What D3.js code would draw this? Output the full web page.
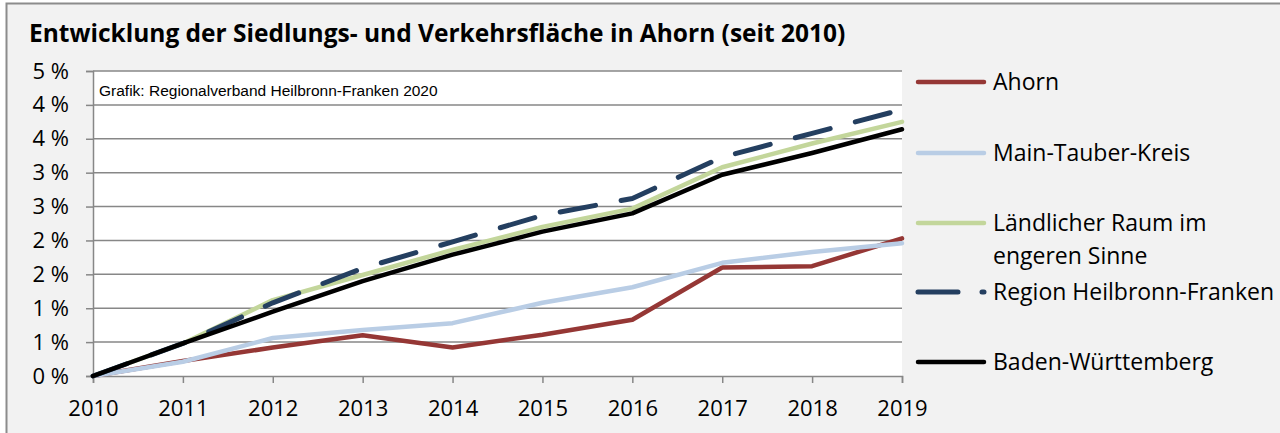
<!DOCTYPE html>
<html>
<head>
<meta charset="utf-8" />
<script src="https://cdn.jsdelivr.net/npm/d3@7"></script>
<style>
  html, body { margin: 0; padding: 0; background: #fff; }
  svg { display: block; }
</style>
</head>
<body>
<div id="my_dataviz"></div>
<script>
// Data (change in % since 2010)
const years = [2010, 2011, 2012, 2013, 2014, 2015, 2016, 2017, 2018, 2019];
const ahorn = [0, 0.22, 0.42, 0.60, 0.42, 0.61, 0.83, 1.60, 1.62, 2.03];
const mainTauber = [0, 0.21, 0.56, 0.68, 0.78, 1.08, 1.31, 1.67, 1.83, 1.96];
const laendlich = [0, 0.48, 1.12, 1.49, 1.86, 2.20, 2.47, 3.08, 3.43, 3.75];
const heilbronnFranken = [0, 0.48, 1.08, 1.59, 1.98, 2.37, 2.62, 3.23, 3.58, 3.93];
const badenWuerttemberg = [0, 0.48, 0.95, 1.40, 1.79, 2.13, 2.40, 2.97, 3.29, 3.64];
const yTicks = [0, 0.5, 1, 1.5, 2, 2.5, 3, 3.5, 4, 4.5];

const title = "Entwicklung der Siedlungs- und Verkehrsfläche in Ahorn (seit 2010)";
const note = "Grafik: Regionalverband Heilbronn-Franken 2020";

const series = [
    { name: ["Ahorn"], values: ahorn, color: "#953735", dash: null, ly: 82 },
    { name: ["Main-Tauber-Kreis"], values: mainTauber, color: "#b9cde5", dash: null, ly: 153 },
    { name: ["Ländlicher Raum im", "engeren Sinne"], values: laendlich, color: "#c3d69b", dash: null, ly: 223 },
    { name: ["Region Heilbronn-Franken"], values: heilbronnFranken, color: "#243f60", dash: "36,26", ly: 292 },
    { name: ["Baden-Württemberg"], values: badenWuerttemberg, color: "#000000", dash: null, ly: 362 }
];

const width = 1280;
const height = 433;
const plot = { left: 93, right: 902, top: 71, bottom: 376 };
const font = "'Open Sans', Calibri, sans-serif";

const svg = d3.select("#my_dataviz")
    .append("svg")
    .attr("width", width)
    .attr("height", height);

// chart frame
svg.append("rect")
    .attr("x", 6.5).attr("y", 3.5)
    .attr("width", width + 10).attr("height", height + 10)
    .attr("fill", "#f2f2f2")
    .attr("stroke", "#8c8c8c")
    .attr("stroke-width", 2);

svg.append("text")
    .attr("x", 29).attr("y", 42)
    .style("font-family", font)
    .style("font-weight", "bold")
    .style("font-size", "24.5px")
    .attr("fill", "#000")
    .text(title);

const x = d3.scaleLinear().domain([2010, 2019]).range([plot.left, plot.right]);
const y = d3.scaleLinear().domain([0, 4.5]).range([plot.bottom, plot.top]);

svg.append("rect")
    .attr("x", plot.left).attr("y", plot.top)
    .attr("width", plot.right - plot.left).attr("height", plot.bottom - plot.top)
    .attr("fill", "#fff");

// gridlines
svg.append("g")
    .selectAll("line")
    .data(yTicks.filter(d => d > 0))
    .enter()
    .append("line")
    .attr("x1", plot.left).attr("x2", plot.right)
    .attr("y1", d => y(d)).attr("y2", d => y(d))
    .attr("stroke", "#878787")
    .attr("stroke-width", 1.5);

// y axis
const yAxis = svg.append("g")
    .attr("transform", `translate(${plot.left},0)`)
    .call(d3.axisLeft(y).tickValues(yTicks).tickSize(7).tickPadding(17)
        .tickFormat(d => Math.round(d) + " %"));
yAxis.select(".domain").attr("stroke", "#878787").attr("stroke-width", 1.5);
yAxis.selectAll(".tick line").attr("stroke", "#878787").attr("stroke-width", 1.5);
yAxis.selectAll("text")
    .style("font-family", font)
    .style("font-size", "22px")
    .attr("fill", "#000");

// x axis
const xAxis = svg.append("g")
    .attr("transform", `translate(0,${plot.bottom})`)
    .call(d3.axisBottom(x).tickValues(years).tickSize(7).tickPadding(17)
        .tickFormat(d3.format("d")));
xAxis.select(".domain").attr("stroke", "#878787").attr("stroke-width", 1.5);
xAxis.selectAll(".tick line").attr("stroke", "#878787").attr("stroke-width", 1.5);
xAxis.selectAll("text")
    .style("font-family", font)
    .style("font-size", "22px")
    .attr("fill", "#000");

svg.append("text")
    .attr("x", 99).attr("y", 96)
    .style("font-family", "'Liberation Sans', Arial, sans-serif")
    .style("font-size", "15.5px")
    .attr("fill", "#000")
    .text(note);

const line = d3.line()
    .x((d, i) => x(years[i]))
    .y(d => y(d));

svg.append("g")
    .selectAll("path")
    .data(series)
    .enter()
    .append("path")
    .attr("d", d => line(d.values))
    .attr("fill", "none")
    .attr("stroke", d => d.color)
    .attr("stroke-width", d => d.dash ? 5 : 4.5)
    .attr("stroke-dasharray", d => d.dash)
    .attr("stroke-linecap", "round")
    .attr("stroke-linejoin", "round");

// legend
const legend = svg.append("g")
    .selectAll("g")
    .data(series)
    .enter()
    .append("g")
    .attr("transform", d => `translate(0,${d.ly})`);

legend.append("line")
    .attr("x1", 918).attr("x2", 984)
    .attr("y1", 0).attr("y2", 0)
    .attr("stroke", d => d.color)
    .attr("stroke-width", d => d.dash ? 5 : 4.5)
    .attr("stroke-dasharray", d => d.dash ? "40,24" : null)
    .attr("stroke-linecap", "round");

legend.append("text")
    .attr("x", 993)
    .attr("y", 8)
    .style("font-family", font)
    .style("font-size", "23px")
    .attr("fill", "#000")
    .selectAll("tspan")
    .data(d => d.name)
    .enter()
    .append("tspan")
    .attr("x", 993)
    .attr("dy", (d, i) => i === 0 ? 0 : 33)
    .text(d => d);
</script>
</body>
</html>
